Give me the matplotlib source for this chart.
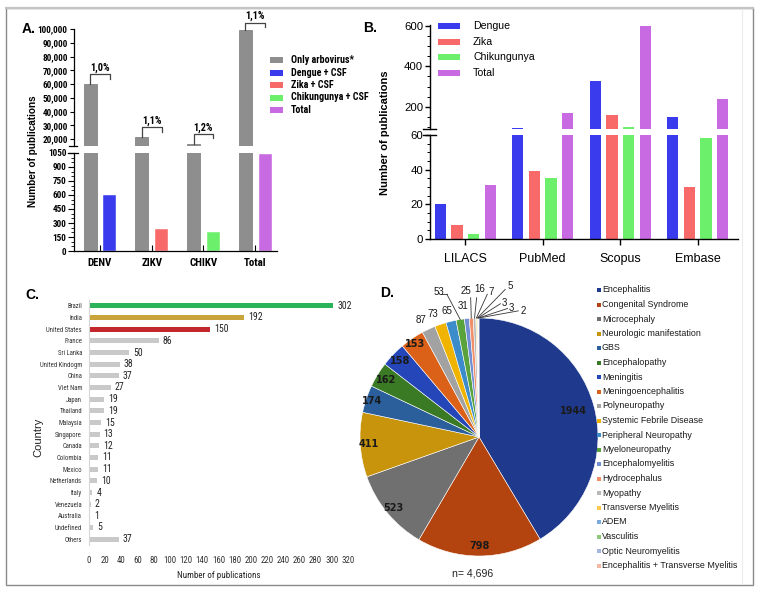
import matplotlib
matplotlib.use('Agg')
import matplotlib.pyplot as plt
from matplotlib import font_manager
from matplotlib.patches import Rectangle
from matplotlib.lines import Line2D
from matplotlib.ticker import FuncFormatter, MultipleLocator
import numpy as np

W, H = 757, 590
avail = {f.name for f in font_manager.fontManager.ttflist}
SANS = 'Liberation Sans'
NARROW = 'Liberation Sans'
NS = 0.86  # size factor when no narrow font is found
for cand in ['Liberation Sans Narrow', 'Roboto Condensed', 'Open Sans Condensed', 'Arial Narrow']:
    if cand in avail:
        NARROW = cand
        NS = 1.0
        break

# ---------------- data ----------------
# Panel A
a_categories = ['DENV', 'ZIKV', 'CHIKV', 'Total']
a_only_arbo = [60000, 21500, 16800, 99000]
a_csf = [600, 240, 200, 1040]
a_pct = ['1,0%', '1,1%', '1,2%', '1,1%']
a_legend = ['Only arbovirus*', 'Dengue + CSF', 'Zika + CSF', 'Chikungunya + CSF', 'Total']

# Panel B
b_databases = ['LILACS', 'PubMed', 'Scopus', 'Embase']
b_series = ['Dengue', 'Zika', 'Chikungunya', 'Total']
b_dengue = [20, 95, 330, 150]
b_zika = [8, 39, 160, 30]
b_chik = [3, 35, 100, 58]
b_total = [31, 167, 600, 240]

# Panel C
c_countries = ['Brazil', 'India', 'United States', 'France', 'Sri Lanka', 'United Kindogm',
               'China', 'Viet Nam', 'Japan', 'Thailand', 'Malaysia', 'Singapore', 'Canada',
               'Colombia', 'Mexico', 'Netherlands', 'Italy', 'Venezuela', 'Australia',
               'Undefined', 'Others']
c_values = [302, 192, 150, 86, 50, 38, 37, 27, 19, 19, 15, 13, 12, 11, 11, 10, 4, 2, 1, 5, 37]

# Panel D
d_categories = ['Encephalitis', 'Congenital Syndrome', 'Microcephaly', 'Neurologic manifestation',
                'GBS', 'Encephalopathy', 'Meningitis', 'Meningoencephalitis', 'Polyneuropathy',
                'Systemic Febrile Disease', 'Peripheral Neuropathy', 'Myeloneuropathy',
                'Encephalomyelitis', 'Hydrocephalus', 'Myopathy', 'Transverse Myelitis', 'ADEM',
                'Vasculitis', 'Optic Neuromyelitis', 'Encephalitis + Transverse Myelitis']
d_values = [1944, 798, 523, 411, 174, 162, 158, 153, 87, 73, 65, 53, 31, 25, 16, 7, 5, 3, 3, 2]
d_total_label = 'n= 4,696'

# ---------------- styles ----------------
GRAY = '#8e8e8e'
BLUE = '#3b3bee'
RED = '#f86a6a'
GREEN = '#6cf06c'
PURPLE = '#c86ae2'
a_colors = [BLUE, RED, GREEN, PURPLE]
a_bracket_gap = [7000, 7000, 7000, 5500]
b_colors = [BLUE, RED, GREEN, PURPLE]
c_colors = ['#2bb35a', '#c9a43a', '#c4272c'] + ['#c9c9c9'] * (len(c_values) - 3)
d_colors = ['#1f3a8c', '#b3440f', '#707070', '#c8940c', '#2a5f9c', '#3a7a25', '#2546b8',
            '#dc6118', '#a2a2a2', '#f0b400', '#3c8ccc', '#5aa33c', '#6f8fd2', '#f08f6a',
            '#b8b8b8', '#ffc94f', '#7aaadd', '#8dc97a', '#a3b5e0', '#f4b7a4']

fig = plt.figure(figsize=(W / 100, H / 100), dpi=100)


def px(x0, y0, x1, y1):
    return [x0 / W, 1 - y1 / H, (x1 - x0) / W, (y1 - y0) / H]


def fx(x):
    return x / W


def fy(y):
    return 1 - y / H


def fline(xs, ys, **kw):
    fig.add_artist(Line2D([fx(v) for v in xs], [fy(v) for v in ys],
                          transform=fig.transFigure, **kw))


# frame
fig.add_artist(Rectangle((fx(6), fy(585)), (753 - 6) / W, (585 - 8) / H, transform=fig.transFigure,
                         fill=False, edgecolor='#8a8a8a', lw=1.0))
fline([6, 753], [8, 8], color='#c4c4c4', lw=1.6)
fline([742, 742], [9, 584], color='#ececec', lw=0.8)

# ---------------- Panel A ----------------
xa = np.arange(len(a_categories))
axAu = fig.add_axes(px(74, 29, 277, 146))
axAl = fig.add_axes(px(74, 153, 277, 251))
for ax in (axAu, axAl):
    ax.bar(xa - 0.19, a_only_arbo, 0.25, color=GRAY, edgecolor='#777777', lw=0.5)
    ax.bar(xa + 0.19, a_csf, 0.25, color=a_colors, edgecolor='white', lw=0.3)
    ax.set_xlim(-0.5, 3.42)
    for s in ['top', 'right']:
        ax.spines[s].set_visible(False)
    ax.spines['left'].set_linewidth(0.9)
    ax.spines['bottom'].set_linewidth(0.9)
    ax.patch.set_alpha(0)
axAu.set_ylim(15000, 100000)
axAu.spines['bottom'].set_visible(False)
axAu.set_yticks(np.arange(20000, 100001, 10000))
axAu.yaxis.set_major_formatter(FuncFormatter(lambda v, p: f'{int(v):,}'))
axAu.tick_params(axis='x', bottom=False, labelbottom=False)
axAu.tick_params(axis='y', length=3, width=0.8, pad=1.5, labelsize=6.6 * NS)
axAl.set_ylim(0, 1050)
axAl.set_yticks(np.arange(0, 1051, 150))
axAl.yaxis.set_minor_locator(MultipleLocator(50))
axAl.tick_params(axis='y', which='major', length=4, width=0.8, pad=1.5, labelsize=6.6 * NS)
axAl.tick_params(axis='y', which='minor', length=2, width=0.6)
axAl.set_xticks(xa, a_categories)
axAl.tick_params(axis='x', direction='in', length=4, width=0.8, pad=5, labelsize=7.8 * NS)
for ax in (axAu, axAl):
    for lab in ax.get_xticklabels() + ax.get_yticklabels():
        lab.set_family(NARROW)
        lab.set_fontweight('bold')
# break marks
fline([69, 77], [146, 146], color='black', lw=0.9)
fline([68, 78], [153, 153], color='black', lw=0.9)
# brackets
for i, (v, t, g) in enumerate(zip(a_only_arbo, a_pct, a_bracket_gap)):
    yb = v + g
    axAu.plot([i - 0.19, i - 0.19, i + 0.19, i + 0.19], [v, yb, yb, yb - 3000],
              color='#444444', lw=0.9, clip_on=False)
    axAu.text(i, yb + 1000, t, ha='center', va='bottom', fontsize=7.4 * NS, family=NARROW,
              fontweight='bold')
fig.text(fx(33), fy(151), 'Number of publications', rotation=90, ha='center', va='center',
         fontsize=7.2, fontweight='bold', family=SANS)
fig.text(fx(29), fy(29), 'A.', ha='center', va='center', fontsize=10, fontweight='bold', family=SANS)
# legend A
leg_cols = [GRAY] + a_colors
for k, (lab, col) in enumerate(zip(a_legend, leg_cols)):
    yy = 60 + k * 12.5
    fig.add_artist(Rectangle((fx(270), fy(yy + 3)), 13 / W, 6 / H, transform=fig.transFigure,
                             facecolor=col, edgecolor='none'))
    fig.text(fx(291), fy(yy), lab, ha='left', va='center', fontsize=7.2 * NS, fontweight='bold',
             family=NARROW)

# ---------------- Panel B ----------------
xb = np.arange(len(b_databases))
axBu = fig.add_axes(px(430, 25, 738, 129))
axBl = fig.add_axes(px(430, 135, 738, 239))
b_data = [b_dengue, b_zika, b_chik, b_total]
for ax in (axBu, axBl):
    for k, (vals, col) in enumerate(zip(b_data, b_colors)):
        ax.bar(xb + (k - 1.5) * 0.215, vals, 0.146, color=col, edgecolor='none')
    ax.set_xlim(-0.455, 3.52)
    for s in ['top', 'right']:
        ax.spines[s].set_visible(False)
    ax.spines['left'].set_linewidth(1.0)
    ax.spines['bottom'].set_linewidth(1.0)
    ax.patch.set_alpha(0)
axBu.set_ylim(90, 605)
axBu.spines['bottom'].set_visible(False)
axBu.set_yticks([200, 400, 600])
axBu.yaxis.set_minor_locator(MultipleLocator(50))
axBu.tick_params(axis='x', bottom=False, labelbottom=False)
axBu.tick_params(axis='y', which='major', length=3.5, width=1.0, labelsize=8.2, pad=1.5)
axBu.tick_params(axis='y', which='minor', length=2, width=0.7)
axBl.set_ylim(0, 60)
axBl.set_yticks([0, 20, 40, 60])
axBl.yaxis.set_minor_locator(MultipleLocator(5))
axBl.tick_params(axis='y', which='major', length=3.5, width=1.0, labelsize=8.2, pad=1.5)
axBl.tick_params(axis='y', which='minor', length=2, width=0.7)
axBl.set_xticks(xb, b_databases)
axBl.tick_params(axis='x', length=4, width=1.0, labelsize=9, pad=6)
for ax in (axBu, axBl):
    for lab in ax.get_xticklabels() + ax.get_yticklabels():
        lab.set_family(SANS)
fline([423, 436], [129, 129], color='black', lw=1.0)
fline([423, 436], [135, 135], color='black', lw=1.0)
fig.text(fx(385), fy(133), 'Number of publications', rotation=90, ha='center', va='center',
         fontsize=8, fontweight='bold', family=SANS)
fig.text(fx(370), fy(28), 'B.', ha='center', va='center', fontsize=10, fontweight='bold', family=SANS)
for k, (lab, col) in enumerate(zip(b_series, b_colors)):
    yy = 26 + k * 15.6
    fig.add_artist(Rectangle((fx(438), fy(yy + 3)), 22 / W, 6 / H, transform=fig.transFigure,
                             facecolor=col, edgecolor='none'))
    fig.text(fx(473), fy(yy), lab, ha='left', va='center', fontsize=7.6, family=SANS)

# ---------------- Panel C ----------------
axC = fig.add_axes(px(89, 300, 348, 545))
yc = np.arange(len(c_countries))
axC.barh(yc, c_values, height=0.42, color=c_colors)
axC.set_ylim(len(c_countries) - 0.5, -0.5)
axC.set_xlim(0, 320)
axC.set_xticks(np.arange(0, 321, 20))
axC.set_yticks(yc, c_countries)
for v, y in zip(c_values, yc):
    axC.text(v + 5, y, str(v), ha='left', va='center', fontsize=7.0 * NS, family=NARROW,
             color='#222222')
for s in ['top', 'right', 'bottom']:
    axC.spines[s].set_visible(False)
axC.spines['left'].set_color('#d6d6d6')
axC.spines['left'].set_linewidth(0.8)
axC.tick_params(axis='y', length=0, pad=5, labelsize=4.9 * NS, labelcolor='#333333')
axC.tick_params(axis='x', length=0, pad=8, labelsize=6.4 * NS, labelcolor='#333333')
for lab in axC.get_xticklabels() + axC.get_yticklabels():
    lab.set_family(NARROW)
axC.patch.set_alpha(0)
fig.text(fx(219), fy(575), 'Number of publications', ha='center', va='center', fontsize=6.5 * NS,
         family=NARROW, color='#222222')
fig.text(fx(38), fy(437), 'Country', rotation=90, ha='center', va='center', fontsize=8,
         family=SANS, color='#222222')
fig.text(fx(32), fy(295), 'C.', ha='center', va='center', fontsize=10, fontweight='bold', family=SANS)

# ---------------- Panel D ----------------
cx, cy, R = 479, 437, 119
axD = fig.add_axes(px(cx - R, cy - R, cx + R, cy + R))
axD.pie(d_values, colors=d_colors, startangle=90, counterclock=False, radius=1,
        wedgeprops=dict(edgecolor='white', linewidth=0.4))
axD.set_xlim(-1, 1)
axD.set_ylim(-1, 1)
axD.set_aspect('equal')
axD.axis('off')
total = float(sum(d_values))
cum = np.concatenate([[0], np.cumsum(d_values)[:-1]])
mids = np.deg2rad(90 - (cum + np.array(d_values) / 2) / total * 360)
inner_r = [0.82, 0.92, 0.93, 0.93, 0.95, 0.92, 0.92, 0.95]
for i in range(8):
    r = inner_r[i]
    axD.text(r * np.cos(mids[i]), r * np.sin(mids[i]), str(d_values[i]), ha='center', va='center',
             fontsize=7, fontweight='bold', family='DejaVu Sans', color='#1a1a1a')
# outer labels without leader
for i, r, dx in zip([8, 9, 10, 12], [1.1, 1.1, 1.1, 1.12], [-0.02, -0.03, -0.01, -0.02]):
    axD.text(r * np.cos(mids[i]) + dx, r * np.sin(mids[i]) - 0.01, str(d_values[i]), ha='center',
             va='center', fontsize=7, family=SANS, color='#1a1a1a')
# outer labels with leader lines (label positions in axes units)
lead_idx = [11, 13, 14, 15, 16, 17, 18, 19]
lead_pos = [(-0.34, 1.22), (-0.11, 1.23), (0.01, 1.24), (0.10, 1.22), (0.26, 1.27),
            (0.215, 1.125), (0.275, 1.085), (0.375, 1.06)]
lead_from = [(-0.27, 1.20), (-0.07, 1.17), (-0.02, 1.17), (0.07, 1.2), (0.22, 1.24),
             (0.18, 1.12), (0.24, 1.08), (0.33, 1.06)]
for i, (tx, ty), (lx, ly) in zip(lead_idx, lead_pos, lead_from):
    ex, ey = np.cos(mids[i]), np.sin(mids[i])
    axD.plot([lx, ex], [ly, ey], color='#333333', lw=0.6, clip_on=False)
    if i == 11:
        axD.plot([lx, lx - 0.05], [ly, ly], color='#333333', lw=0.6, clip_on=False)
    axD.text(tx, ty, str(d_values[i]), ha='center', va='center', fontsize=7, family=SANS,
             color='#1a1a1a')
fig.text(fx(473), fy(573), d_total_label, ha='center', va='center', fontsize=7.6, family=SANS,
         color='#222222')
fig.text(fx(387), fy(293), 'D.', ha='center', va='center', fontsize=10, fontweight='bold', family=SANS)
for k, (lab, col) in enumerate(zip(d_categories, d_colors)):
    yy = 290 + k * 14.5
    fig.add_artist(Rectangle((fx(597), fy(yy + 2)), 4 / W, 4 / H, transform=fig.transFigure,
                             facecolor=col, edgecolor='none'))
    fig.text(fx(602), fy(yy), lab, ha='left', va='center', fontsize=6.4, family=SANS,
             color='#1a1a1a')

fig.savefig('out.png', dpi=100)
